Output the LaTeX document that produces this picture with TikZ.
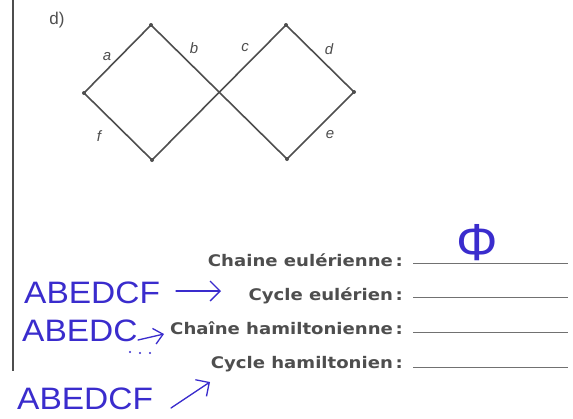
\documentclass[tikz,border=0pt]{standalone}
\usepackage{fontspec}
\usetikzlibrary{arrows.meta}
\newfontfamily\printfont[FakeStretch=1.13]{DejaVu Sans Bold}
\newfontfamily\labelfont{Liberation Sans}
\newfontfamily\handfont[FakeStretch=1.08]{Liberation Sans}
\newfontfamily\phifont{Liberation Sans}
\definecolor{printgray}{RGB}{78,78,78}
\definecolor{inkblue}{RGB}{58,44,205}
\tikzset{
  vertex/.style={circle,fill=printgray,inner sep=0pt,minimum size=4pt},
  edge/.style={printgray,line width=1.6pt},
  elabel/.style={text=printgray,font=\labelfont\itshape\fontsize{15}{15}\selectfont,inner sep=0pt},
  printlabel/.style={text=printgray,font=\printfont\fontsize{16}{16}\selectfont,anchor=base east,inner sep=0pt},
  answerline/.style={printgray!80,line width=0.9pt},
  hand/.style={text=inkblue,font=\handfont\fontsize{31}{31}\selectfont,anchor=base west,inner sep=0pt},
  handarrow/.style={inkblue,line width=1.3pt,line cap=round,line join=round},
}
\begin{document}
\begin{tikzpicture}[x=1pt,y=-1pt]
\useasboundingbox (0,0) rectangle (573,418);
\fill[white] (0,0) rectangle (573,418);
% left margin rule
\draw[printgray,line width=1.4pt] (13,0) -- (13,371);
% title
\node[text=printgray,font=\labelfont\fontsize{17}{17}\selectfont,inner sep=0pt] (title) at (57,20) {d)};
% vertices
\node[vertex] (TL) at (151,25) {};
\node[vertex] (L) at (84,93) {};
\node[vertex] (BL) at (152,160) {};
\node[vertex] (TR) at (286,25) {};
\node[vertex] (R) at (354,92) {};
\node[vertex] (BR) at (287,159) {};
% edges
\draw[edge] (L.center) -- (TL.center);
\draw[edge] (TL.center) -- (BR.center);
\draw[edge] (BL.center) -- (TR.center);
\draw[edge] (TR.center) -- (R.center);
\draw[edge] (R.center) -- (BR.center);
\draw[edge] (L.center) -- (BL.center);
% edge labels
\node[elabel] (la) at (107,57) {a};
\node[elabel] (lb) at (194,48) {b};
\node[elabel] (lc) at (245,48) {c};
\node[elabel] (ld) at (329,49) {d};
\node[elabel] (le) at (330,135) {e};
\node[elabel] (lf) at (99,136) {f};
% printed questions
\node[printlabel] (q1) at (403,266) {Chaine eulérienne\,:};
\node[printlabel] (q2) at (403,300) {Cycle eulérien\,:};
\node[printlabel] (q3) at (403,334) {Chaîne hamiltonienne\,:};
\node[printlabel] (q4) at (403,368) {Cycle hamiltonien\,:};
\coordinate (u1a) at (413,263); \coordinate (u1b) at (568,263);
\coordinate (u2a) at (413,297); \coordinate (u2b) at (568,297);
\coordinate (u3a) at (413,332); \coordinate (u3b) at (568,332);
\coordinate (u4a) at (413,367); \coordinate (u4b) at (568,367);
\draw[answerline] (u1a) -- (u1b);
\draw[answerline] (u2a) -- (u2b);
\draw[answerline] (u3a) -- (u3b);
\draw[answerline] (u4a) -- (u4b);
% handwritten answers
\node[text=inkblue,font=\phifont\fontsize{52}{52}\selectfont,inner sep=0pt] (phi) at (477,243) {Φ};
\node[hand] (h1) at (24,303) {ABEDCF};
\node[hand] (h2) at (22,341) {ABEDC};
\node[hand] (h3) at (17,409) {ABEDCF};
\coordinate (a1s) at (176,291);
\coordinate (a1e) at (221,291);
\draw[handarrow,-{Straight Barb[length=10pt,width=20pt,line width=1.3pt]}] (a1s) -- (a1e);
\coordinate (a2s) at (138,340);
\coordinate (a2e) at (164,334);
\draw[handarrow,-{Straight Barb[length=9pt,width=16pt,line width=1.3pt]}] (a2s) -- (a2e);
\fill[inkblue] (130,352) circle (1.1pt) (140,353) circle (1.1pt) (150,353) circle (1.1pt);
\coordinate (a3s) at (171,408);
\coordinate (a3e) at (210,382);
\draw[handarrow,-{Straight Barb[length=10pt,width=20pt,line width=1.3pt]}] (a3s) -- (a3e);
\end{tikzpicture}
\end{document}
